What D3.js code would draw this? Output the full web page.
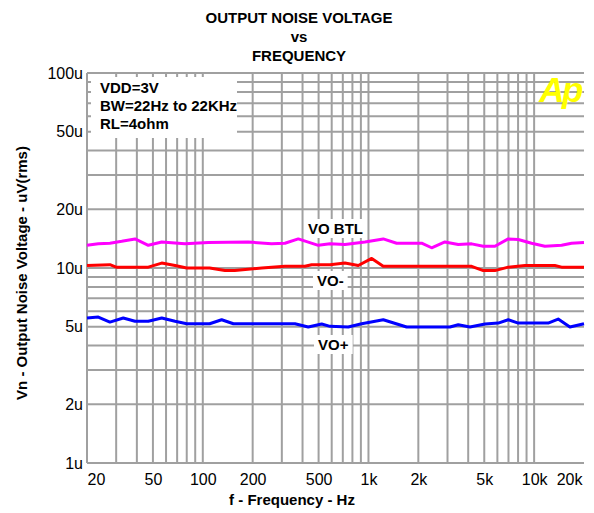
<!DOCTYPE html>
<html><head><meta charset="utf-8">
<script src="https://cdn.jsdelivr.net/npm/d3@7"></script>
<style>body{margin:0;background:#fff}svg{display:block}</style>
</head><body><svg id="c" width="594" height="513"></svg>
<script>
// ---- data ----
const titleLines = ["OUTPUT NOISE VOLTAGE", "vs", "FREQUENCY"];
const xTickValues = [20, 50, 100, 200, 500, 1000, 2000, 5000, 10000, 20000];
const xTickLabels = ["20", "50", "100", "200", "500", "1k", "2k", "5k", "10k", "20k"];
const yTickValues = [1, 2, 5, 10, 20, 50, 100];
const yTickLabels = ["1u", "2u", "5u", "10u", "20u", "50u", "100u"];
const infoLines = ["VDD=3V", "BW=22Hz to 22KHz", "RL=4ohm"];

const freqBTL = [20, 23.4, 27.5, 32.4, 39, 46.9, 56.5, 78, 108, 188, 260, 313, 377, 498, 586, 721, 952, 1228, 1479, 2094, 2406, 2894, 3483, 4195, 4932, 5798, 6978, 8018, 9652, 11614, 14650, 16828, 20000];
const valBTL  = [13.07, 13.3, 13.4, 13.7, 14.1, 13.07, 13.6, 13.3, 13.5, 13.6, 13.3, 13.4, 14.1, 13.07, 13.3, 13.2, 13.6, 14.1, 13.4, 13.4, 12.7, 13.6, 13.2, 13.3, 12.93, 12.93, 14.1, 14.0, 13.4, 12.93, 13.07, 13.4, 13.5];

const freqMinus = [20, 27.5, 30, 46.9, 56.5, 68, 80, 110, 136, 156, 227, 313, 414, 454, 586, 721, 868, 1046, 1228, 1739, 3104, 4195, 4932, 5798, 6978, 8796, 13336, 14650, 20000];
const valMinus  = [10.3, 10.4, 10.1, 10.1, 10.6, 10.3, 10.0, 10.0, 9.7, 9.7, 10.0, 10.2, 10.2, 10.4, 10.4, 10.6, 10.3, 11.2, 10.2, 10.2, 10.2, 10.2, 9.7, 9.7, 10.1, 10.3, 10.3, 10.1, 10.1];

const freqPlus = [20, 23.4, 27.5, 33.1, 39, 46.9, 56.5, 68, 80, 110, 130, 153, 360, 433, 522, 586, 755, 910, 1228, 1700, 3104, 3483, 4097, 5050, 6072, 6978, 8018, 12160, 13968, 16444, 20000];
const valPlus  = [5.54, 5.6, 5.28, 5.54, 5.33, 5.33, 5.54, 5.33, 5.18, 5.18, 5.43, 5.18, 5.18, 4.98, 5.16, 5.02, 4.98, 5.18, 5.43, 4.98, 4.98, 5.12, 4.98, 5.16, 5.22, 5.43, 5.22, 5.22, 5.47, 4.98, 5.18];

const seriesNames = ["VO BTL", "VO-", "VO+"];
const seriesColors = ["#ff00ff", "#ff0000", "#0000ff"];

// ---- chart ----
const svg = d3.select("#c");
const FONT = "'Liberation Sans', Arial, sans-serif";
const x = d3.scaleLog().domain([20, 20000]).range([87, 584]);
const y = d3.scaleLog().domain([1, 100]).range([463, 73]);

const gridColor = "#a0a0a0";
const grid = svg.append("g");
// vertical grid
grid.selectAll("line.v").data(x.ticks().filter(d => d > 20 && d <= 10000)).join("line")
  .attr("x1", d => x(d)).attr("x2", d => x(d)).attr("y1", 73).attr("y2", 463)
  .attr("stroke", gridColor).attr("stroke-width", 2);
// horizontal grid
grid.selectAll("line.h").data(y.ticks()).join("line")
  .attr("x1", 87).attr("x2", 584).attr("y1", d => y(d)).attr("y2", d => y(d))
  .attr("stroke", gridColor).attr("stroke-width", 2);
// left axis line
grid.append("line").attr("x1", 87).attr("x2", 87).attr("y1", 73).attr("y2", 463)
  .attr("stroke", gridColor).attr("stroke-width", 2);

// info box (covers grid)
svg.append("rect").attr("x", 91).attr("y", 77).attr("width", 146).attr("height", 61).attr("fill", "#fff");
svg.append("g").selectAll("text").data(infoLines).join("text")
  .attr("x", 100).attr("y", (d, i) => 93 + i * 18)
  .attr("font-family", FONT).attr("font-weight", "bold").attr("font-size", 15)
  .text(d => d);

// Ap logo
svg.append("text").attr("x", 581).attr("y", 102).attr("text-anchor", "end")
  .attr("font-family", FONT).attr("font-weight", "bold").attr("font-style", "italic")
  .attr("font-size", 35).attr("letter-spacing", -2.5).attr("fill", "#ffff00").text("Ap");

// series
const line = d3.line().x(d => x(d[0])).y(d => y(d[1]));
const series = [
  d3.zip(freqBTL, valBTL),
  d3.zip(freqMinus, valMinus),
  d3.zip(freqPlus, valPlus)
];
svg.append("g").selectAll("path").data(series).join("path")
  .attr("d", line).attr("fill", "none")
  .attr("stroke", (d, i) => seriesColors[i]).attr("stroke-width", 3)
  .attr("stroke-linejoin", "round");

// series labels
const labelPos = [[308, 234], [317, 286], [318, 350]];
const lg = svg.append("g");
seriesNames.forEach((name, i) => {
  const t = lg.append("text").attr("x", labelPos[i][0]).attr("y", labelPos[i][1])
    .attr("font-family", FONT).attr("font-weight", "bold").attr("font-size", 15).text(name);
  const bb = t.node().getBBox();
  lg.insert("rect", "text").attr("x", bb.x - 4).attr("y", bb.y - 1)
    .attr("width", bb.width + 8).attr("height", bb.height + 2).attr("fill", "#fff");
});

// axes
const xAxis = svg.append("g").attr("transform", "translate(0,463)")
  .call(d3.axisBottom(x).tickValues(xTickValues).tickFormat((d, i) => xTickLabels[i]).tickSize(0).tickPadding(10.6));
xAxis.select(".domain").remove();
xAxis.selectAll("text").attr("font-family", FONT).attr("font-size", 16).attr("fill", "#000")
  .attr("text-anchor", (d, i) => i === 0 ? "start" : (i === xTickValues.length - 1 ? "end" : "middle"))
  .attr("dx", (d, i) => i === xTickValues.length - 1 ? -2 : 0);

const yAxis = svg.append("g").attr("transform", "translate(87,0)")
  .call(d3.axisLeft(y).tickValues(yTickValues).tickFormat((d, i) => yTickLabels[i]).tickSize(0).tickPadding(4));
yAxis.select(".domain").remove();
yAxis.selectAll("text").attr("font-family", FONT).attr("font-size", 16).attr("fill", "#000");

// titles
svg.append("g").selectAll("text").data(titleLines).join("text")
  .attr("x", 299).attr("y", (d, i) => 23 + i * 19).attr("text-anchor", "middle")
  .attr("font-family", FONT).attr("font-weight", "bold").attr("font-size", 15).text(d => d);

svg.append("text").attr("x", 292).attr("y", 505).attr("text-anchor", "middle")
  .attr("font-family", FONT).attr("font-weight", "bold").attr("font-size", 15)
  .text("f - Frequency - Hz");

svg.append("text").attr("transform", "translate(27,273) rotate(-90)").attr("text-anchor", "middle")
  .attr("font-family", FONT).attr("font-weight", "bold").attr("font-size", 15)
  .text("Vn - Output Noise Voltage - uV(rms)");
</script></body></html>
